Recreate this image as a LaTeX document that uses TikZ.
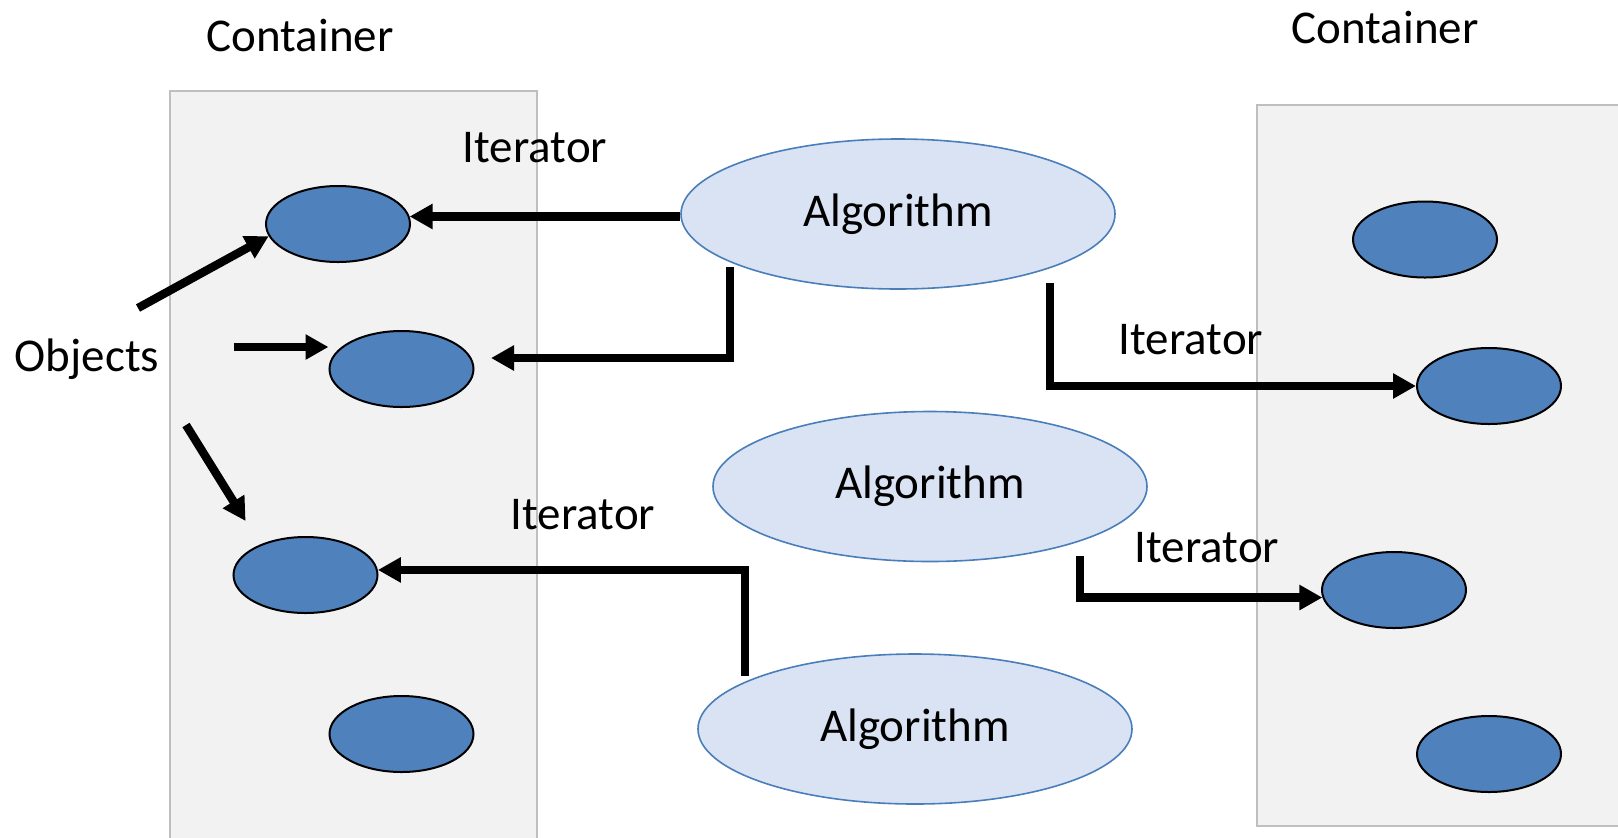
\documentclass[tikz,border=0pt]{standalone}
\usepackage{fontspec}
\setmainfont{Carlito}
\usetikzlibrary{shapes.geometric,arrows.meta}
\definecolor{objblue}{HTML}{4F81BD}
\definecolor{algfill}{HTML}{DAE3F3}
\definecolor{algline}{HTML}{4A7EBB}
\definecolor{boxfill}{HTML}{F2F2F2}
\definecolor{boxline}{HTML}{BFBFBF}
\begin{document}
\begin{tikzpicture}[x=0.5pt,y=-0.5pt,
  obj/.style={ellipse,draw=black,line width=1pt,fill=objblue,minimum width=72pt,minimum height=38pt,inner sep=0pt},
  alg/.style={ellipse,draw=algline,line width=0.8pt,fill=algfill,minimum width=217pt,minimum height=75pt,inner sep=0pt,font=\fontsize{23.5}{28}\selectfont},
  lbl/.style={font=\fontsize{23.5}{28}\selectfont,inner sep=0pt},
  arr/.style={line width=4.2pt,-{Triangle[length=11.5pt,width=12pt]}},
  cont/.style={draw=boxline,line width=1pt,fill=boxfill}]
\useasboundingbox (0,0) rectangle (1618,837);
\fill[white] (0,0) rectangle (1618,837);
% containers
\draw[cont] (170,845) -- (170,91) -- (537,91) -- (537,845);
\draw[cont] (1640,826) -- (1257,826) -- (1257,105) -- (1640,105);
% container labels
\node[lbl] (c1) at (300,35) {Container};
\node[lbl] (c2) at (1385,27) {Container};
% algorithms
\node[alg] (A1) at (898,214) {Algorithm};
\node[alg] (A2) at (930,486.5) {Algorithm};
\node[alg] (A3) at (915,729) {Algorithm};
% objects
\node[obj] (O1) at (338,224) {};
\node[obj] (O2) at (401.5,369) {};
\node[obj] (O3) at (305.5,575) {};
\node[obj] (O4) at (401.5,734) {};
\node[obj] (R1) at (1425,239.5) {};
\node[obj] (R2) at (1489,386) {};
\node[obj] (R3) at (1394,590) {};
\node[obj] (R4) at (1489,754) {};
% labels
\node[lbl] (it1) at (535,148) {Iterator};
\node[lbl] (it2) at (1191,339.5) {Iterator};
\node[lbl] (it3) at (583,515) {Iterator};
\node[lbl] (it4) at (1207,548) {Iterator};
\node[lbl] (objs) at (87,359) {Objects};
% free ends
\coordinate (s2) at (730,267);
\coordinate (e2) at (491,358);
\coordinate (s3) at (1050,283);
\coordinate (s4) at (745,676);
\coordinate (s5) at (1080,556);
\coordinate (o6) at (138,308);
\coordinate (o7) at (234,347);
\coordinate (o8s) at (186,425);
\coordinate (o8e) at (245.6,521);
% iterator arrows
\draw[arr] (O1.6 -| A1.west) -- (O1.6);
\draw[arr] (s2) |- (e2);
\draw[arr] (s3) |- (R2.west);
\draw[arr] (s4) |- (O3.4);
\draw[arr] (s5) |- (R3.186);
% object arrows
\draw[arr] (o6) -- (O1.190);
\draw[arr] (o7) -- (o7 -| O2.west);
\draw[arr] (o8s) -- (o8e);
\end{tikzpicture}
\end{document}
